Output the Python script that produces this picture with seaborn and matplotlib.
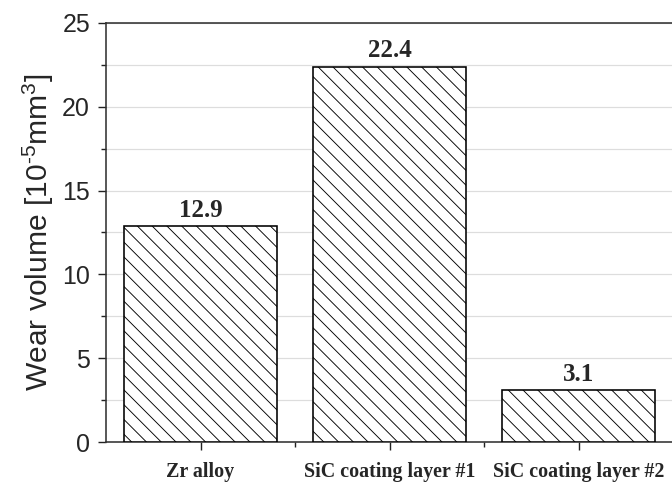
import matplotlib
matplotlib.use("Agg")
import matplotlib.pyplot as plt
from matplotlib.ticker import MultipleLocator
import seaborn as sns
import pandas as pd

# ==========================================
# DATA
# ==========================================
categories = ["Zr alloy", "SiC coating layer #1", "SiC coating layer #2"]
wear_volume = [12.9, 22.4, 3.1]
value_labels = ["12.9", "22.4", "3.1"]

DPI = 133
PX = 72.0 / DPI  # points per pixel

sns.set_style("white")
plt.rcParams["hatch.color"] = "#8c8c8c"
plt.rcParams["hatch.linewidth"] = 0.9 * PX
plt.rcParams["mathtext.fontset"] = "custom"
plt.rcParams["mathtext.rm"] = "Liberation Sans"
plt.rcParams["mathtext.default"] = "regular"

df = pd.DataFrame({"cat": categories, "vol": wear_volume})

fig = plt.figure(figsize=(672 / DPI, 485 / DPI), dpi=DPI)
ax = fig.add_axes([106 / 672, 43 / 485, 567 / 672, 419 / 485])

sns.barplot(data=df, x="cat", y="vol", color="white", width=0.81,
            edgecolor="black", linewidth=1.6 * PX, ax=ax, zorder=3)
for p in ax.patches:
    p.set_hatch("\\\\\\")
    p.set_facecolor("white")

# value labels above bars
for i, (v, t) in enumerate(zip(wear_volume, value_labels)):
    ax.text(i, v + 0.55, t, ha="center", va="baseline",
            family="Liberation Serif", fontweight="bold", fontsize=25 * PX)

ax.set_xlim(-0.5, 2.5)
ax.set_ylim(0, 25)
ax.yaxis.set_major_locator(MultipleLocator(5))
ax.yaxis.set_minor_locator(MultipleLocator(2.5))
ax.set_xticks([0, 1, 2])
ax.set_xticks([0.5, 1.5], minor=True)
ax.set_xticklabels(categories, family="Liberation Serif", fontweight="bold",
                   fontsize=20 * PX)
for lab in ax.get_yticklabels():
    lab.set_family("Liberation Sans")
    lab.set_fontsize(25 * PX)

ax.grid(True, which="both", axis="y", color="#dddddd", linewidth=1.2 * PX, zorder=0)
ax.set_axisbelow(True)

ax.tick_params(axis="both", which="major", direction="out", length=8 * PX,
               width=1.4 * PX, color="#222222", bottom=True, left=True)
ax.tick_params(axis="both", which="minor", direction="out", length=5 * PX,
               width=1.4 * PX, color="#222222", bottom=True, left=True)
ax.tick_params(axis="x", pad=12 * PX)
ax.tick_params(axis="y", pad=8 * PX)

for s in ax.spines.values():
    s.set_color("#333333")
    s.set_linewidth(1.6 * PX)

ax.set_xlabel("")
ax.set_ylabel(r"Wear volume [10$^{\text{-}5}$mm$^{3}$]", family="Liberation Sans",
              fontsize=30 * PX, labelpad=6 * PX)

fig.savefig("out.png", dpi=DPI)
